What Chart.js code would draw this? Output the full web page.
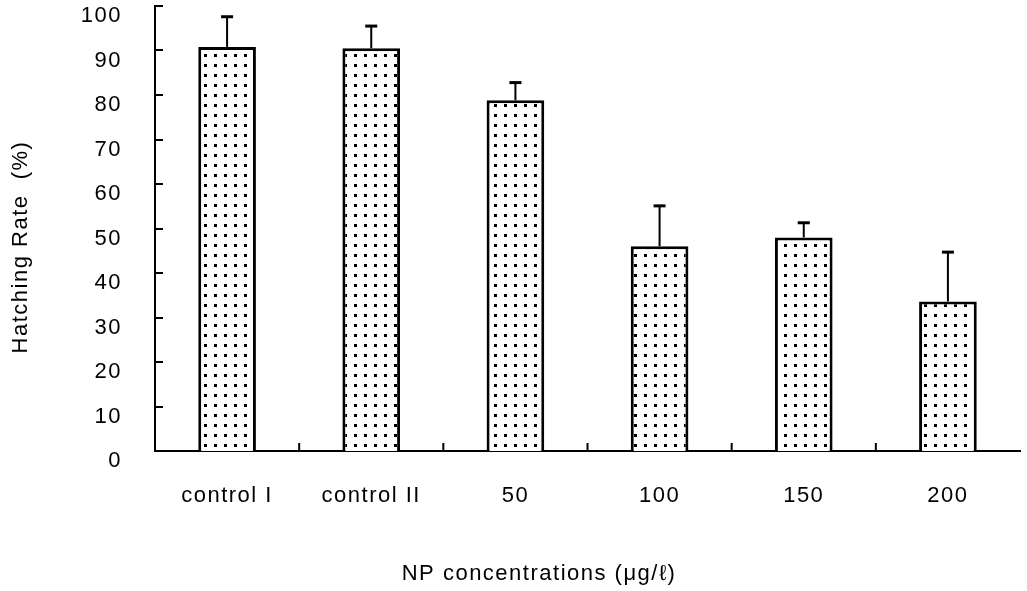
<!DOCTYPE html>
<html>
<head>
<meta charset="utf-8">
<script src="https://cdn.jsdelivr.net/npm/chart.js@4.4.1/dist/chart.umd.min.js"></script>
<style>
  html, body { margin: 0; padding: 0; background: #fff; }
  #wrap { width: 1027px; height: 591px; }
</style>
</head>
<body>
<div id="wrap"><canvas id="c" width="1027" height="591"></canvas></div>
<script>
// ---- data ----
const categories = ['control I', 'control II', '50', '100', '150', '200'];
const hatchingRate = [90.8, 90.5, 78.8, 46.0, 48.0, 33.6];
const errorUpper = [6.9, 5.1, 4.1, 9.2, 3.4, 11.2];
const yMin = 0, yMax = 100, yStep = 10;
const xTitle = 'NP concentrations (μg/ℓ)';
const yTitle = 'Hatching Rate  (%)';

const FONT = '"Liberation Sans", Arial, sans-serif';
const SPACING = '1.5px';

// dotted fill pattern
function makePattern() {
  const p = document.createElement('canvas');
  p.width = 10; p.height = 10;
  const pc = p.getContext('2d');
  pc.fillStyle = '#fff';
  pc.fillRect(0, 0, 10, 10);
  pc.fillStyle = '#000';
  pc.fillRect(4, 4, 3, 3);
  return document.getElementById('c').getContext('2d').createPattern(p, 'repeat');
}

const spacingPlugin = {
  id: 'spacing',
  beforeLayout(chart) { chart.ctx.letterSpacing = SPACING; },
  beforeDraw(chart) { chart.ctx.letterSpacing = SPACING; }
};

const decorPlugin = {
  id: 'decor',
  afterDatasetsDraw(chart) {
    const ctx = chart.ctx;
    const xs = chart.scales.x, ys = chart.scales.y;
    const area = chart.chartArea;
    ctx.save();
    ctx.strokeStyle = '#000';
    ctx.fillStyle = '#000';
    ctx.lineWidth = 2;
    // inward y ticks
    for (let v = yMin + yStep; v <= yMax; v += yStep) {
      const y = Math.round(ys.getPixelForValue(v));
      ctx.beginPath();
      ctx.moveTo(area.left, y);
      ctx.lineTo(area.left + 8, y);
      ctx.stroke();
    }
    // inward x ticks between categories
    for (let i = 1; i < categories.length; i++) {
      const x = (xs.getPixelForValue(i - 1) + xs.getPixelForValue(i)) / 2;
      ctx.beginPath();
      ctx.moveTo(x, area.bottom);
      ctx.lineTo(x, area.bottom - 8);
      ctx.stroke();
    }
    // error bars (upper only)
    const meta = chart.getDatasetMeta(0);
    meta.data.forEach((el, i) => {
      const x = el.x;
      const yTop = ys.getPixelForValue(hatchingRate[i]);
      const yErr = ys.getPixelForValue(hatchingRate[i] + errorUpper[i]);
      ctx.lineWidth = 2;
      ctx.beginPath();
      ctx.moveTo(x, yTop);
      ctx.lineTo(x, yErr);
      ctx.stroke();
      ctx.fillRect(x - 6, yErr - 1, 12, 3);
    });
    ctx.restore();
  },
  afterDraw(chart) {
    const ctx = chart.ctx;
    const area = chart.chartArea;
    ctx.save();
    ctx.letterSpacing = SPACING;
    ctx.fillStyle = '#000';
    ctx.font = '22px ' + FONT;
    ctx.textAlign = 'center';
    ctx.textBaseline = 'middle';
    ctx.fillText(xTitle, area.left + (area.right - area.left) * 0.444, 574);
    ctx.translate(21, 247);
    ctx.rotate(-Math.PI / 2);
    ctx.fillText(yTitle, 0, 0);
    ctx.restore();
  }
};

function zeroPad(s) { s.paddingTop = 0; s.paddingBottom = 0; s.paddingLeft = 0; s.paddingRight = 0; }

const chart = new Chart(document.getElementById('c'), {
  type: 'bar',
  data: {
    labels: categories,
    datasets: [{
      data: hatchingRate,
      backgroundColor: makePattern(),
      borderColor: '#000',
      borderWidth: 3,
      categoryPercentage: 1.0,
      barPercentage: 0.40
    }]
  },
  options: {
    responsive: false,
    animation: false,
    events: [],
    layout: { padding: { top: 6, right: 7, left: 0, bottom: 0 } },
    plugins: { legend: { display: false }, tooltip: { enabled: false }, title: { display: false } },
    scales: {
      x: {
        grid: { display: false, drawTicks: false },
        border: { display: true, color: '#000', width: 2 },
        ticks: { color: '#000', font: { family: FONT, size: 22 }, padding: 32, maxRotation: 0, autoSkip: false },
        afterFit(s) { s.height = 140; zeroPad(s); }
      },
      y: {
        min: yMin, max: yMax,
        grid: { display: false, drawTicks: false },
        border: { display: true, color: '#000', width: 2 },
        ticks: { stepSize: yStep, color: '#000', font: { family: FONT, size: 22 }, padding: 33, labelOffset: 10 },
        afterFit(s) { s.width = 155; zeroPad(s); }
      }
    }
  },
  plugins: [spacingPlugin, decorPlugin]
});
</script>
</body>
</html>
